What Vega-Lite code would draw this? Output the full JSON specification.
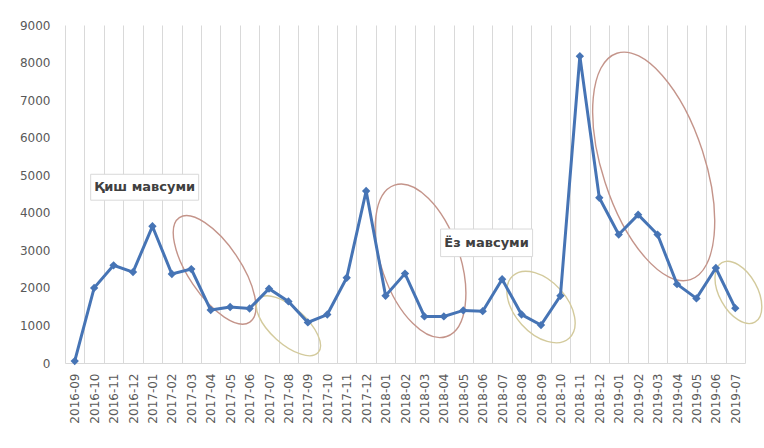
{
  "$schema": "https://vega.github.io/schema/vega-lite/v6.json",
  "width": 680,
  "height": 338,
  "autosize": "none",
  "padding": {"left": 65, "top": 25, "right": 19, "bottom": 85},
  "background": "white",
  "config": {"view": {"stroke": null}, "font": "DejaVu Sans"},
  "datasets": {
    "sales": [
      {"month": "2016-09", "value": 50},
      {"month": "2016-10", "value": 2000},
      {"month": "2016-11", "value": 2600},
      {"month": "2016-12", "value": 2420},
      {"month": "2017-01", "value": 3640},
      {"month": "2017-02", "value": 2370},
      {"month": "2017-03", "value": 2500},
      {"month": "2017-04", "value": 1410},
      {"month": "2017-05", "value": 1490},
      {"month": "2017-06", "value": 1450},
      {"month": "2017-07", "value": 1980},
      {"month": "2017-08", "value": 1640},
      {"month": "2017-09", "value": 1080},
      {"month": "2017-10", "value": 1290},
      {"month": "2017-11", "value": 2270},
      {"month": "2017-12", "value": 4580},
      {"month": "2018-01", "value": 1790},
      {"month": "2018-02", "value": 2380},
      {"month": "2018-03", "value": 1240},
      {"month": "2018-04", "value": 1240},
      {"month": "2018-05", "value": 1400},
      {"month": "2018-06", "value": 1380},
      {"month": "2018-07", "value": 2230},
      {"month": "2018-08", "value": 1290},
      {"month": "2018-09", "value": 1010},
      {"month": "2018-10", "value": 1790},
      {"month": "2018-11", "value": 8170},
      {"month": "2018-12", "value": 4400},
      {"month": "2019-01", "value": 3420},
      {"month": "2019-02", "value": 3950},
      {"month": "2019-03", "value": 3420},
      {"month": "2019-04", "value": 2100},
      {"month": "2019-05", "value": 1720},
      {"month": "2019-06", "value": 2530},
      {"month": "2019-07", "value": 1460}
    ],
    "ellipses": [
      {"id": "e1", "pos": 7.2, "value": 2480},
      {"id": "e2", "pos": 11.0, "value": 990},
      {"id": "e3", "pos": 17.8, "value": 2720},
      {"id": "e4", "pos": 24.0, "value": 1490},
      {"id": "e5", "pos": 29.8, "value": 5235},
      {"id": "e6", "pos": 34.16, "value": 1880}
    ],
    "notes": [
      {"label": "Қиш мавсуми", "pos": 3.6, "value": 4680},
      {"label": "Ёз мавсуми", "pos": 21.2, "value": 3200}
    ]
  },
  "resolve": {"scale": {"x": "independent"}},
  "layer": [
    {
      "data": {"name": "ellipses"},
      "encoding": {
        "x": {"field": "pos", "type": "quantitative", "scale": {"domain": [-0.5, 34.5]}, "axis": null},
        "y": {
          "field": "value", "type": "quantitative", "scale": {"domain": [0, 9000]},
          "axis": {
            "title": null, "values": [0, 1000, 2000, 3000, 4000, 5000, 6000, 7000, 8000, 9000],
            "format": "d", "grid": false, "domain": false, "ticks": false, "tickSize": 0, "labelOverlap": false,
            "labelPadding": 15, "labelFont": "DejaVu Sans", "labelFontSize": 12, "labelColor": "#595959"
          }
        }
      },
      "layer": [
        {"transform": [{"filter": "datum.id === 'e1'"}], "mark": {"type": "point", "filled": false, "shape": "M-1,0A1,0.413,0,0,1,1,0A1,0.413,0,0,1,-1,0Z", "size": 15876, "angle": 56, "stroke": "#c4948a", "strokeWidth": 1.4, "opacity": 1}},
        {"transform": [{"filter": "datum.id === 'e2'"}], "mark": {"type": "point", "filled": false, "shape": "M-1,0A1,0.45,0,0,1,1,0A1,0.45,0,0,1,-1,0Z", "size": 6400, "angle": 42, "stroke": "#d3ca9c", "strokeWidth": 1.4, "opacity": 1}},
        {"transform": [{"filter": "datum.id === 'e3'"}], "mark": {"type": "point", "filled": false, "shape": "M-1,0A1,0.49,0,0,1,1,0A1,0.49,0,0,1,-1,0Z", "size": 25600, "angle": 71, "stroke": "#c4948a", "strokeWidth": 1.4, "opacity": 1}},
        {"transform": [{"filter": "datum.id === 'e4'"}], "mark": {"type": "point", "filled": false, "shape": "M-1,0A1,0.62,0,0,1,1,0A1,0.62,0,0,1,-1,0Z", "size": 7056, "angle": 48, "stroke": "#d3ca9c", "strokeWidth": 1.4, "opacity": 1}},
        {"transform": [{"filter": "datum.id === 'e5'"}], "mark": {"type": "point", "filled": false, "shape": "M-1,0A1,0.43,0,0,1,1,0A1,0.43,0,0,1,-1,0Z", "size": 56644, "angle": 72, "stroke": "#c4948a", "strokeWidth": 1.4, "opacity": 1}},
        {"transform": [{"filter": "datum.id === 'e6'"}], "mark": {"type": "point", "filled": false, "shape": "M-1,0A1,0.56,0,0,1,1,0A1,0.56,0,0,1,-1,0Z", "size": 4624, "angle": 61, "stroke": "#d3ca9c", "strokeWidth": 1.4, "opacity": 1}}
      ]
    },
    {
      "data": {"name": "sales"},
      "encoding": {
        "x": {
          "field": "month", "type": "ordinal", "sort": null,
          "scale": {"paddingInner": 0, "paddingOuter": 0},
          "axis": {
            "title": null, "labelAngle": -90, "tickBand": "extent", "grid": true,
            "gridColor": "#d9d9d9", "gridWidth": 1, "ticks": false, "tickSize": 0,
            "domain": true, "domainColor": "#d9d9d9", "labelPadding": 10, "labelOverlap": false,
            "labelFont": "DejaVu Sans", "labelFontSize": 12, "labelColor": "#595959"
          }
        },
        "y": {
          "field": "value", "type": "quantitative",
          "scale": {"domain": [0, 9000]},
          "axis": {
            "title": null, "values": [0, 1000, 2000, 3000, 4000, 5000, 6000, 7000, 8000, 9000],
            "format": "d", "grid": false, "domain": false, "ticks": false, "tickSize": 0, "labelOverlap": false,
            "labelPadding": 15, "labelFont": "DejaVu Sans", "labelFontSize": 12, "labelColor": "#595959"
          }
        }
      },
      "layer": [
        {"mark": {"type": "line", "color": "#4674b5", "strokeWidth": 3}},
        {"mark": {"type": "point", "shape": "diamond", "filled": true, "size": 70, "color": "#4674b5", "opacity": 1}}
      ]
    },
    {
      "data": {"name": "notes"},
      "encoding": {
        "x": {"field": "pos", "type": "quantitative", "scale": {"domain": [-0.5, 34.5]}, "axis": null},
        "y": {
          "field": "value", "type": "quantitative", "scale": {"domain": [0, 9000]},
          "axis": {
            "title": null, "values": [0, 1000, 2000, 3000, 4000, 5000, 6000, 7000, 8000, 9000],
            "format": "d", "grid": false, "domain": false, "ticks": false, "tickSize": 0, "labelOverlap": false,
            "labelPadding": 15, "labelFont": "DejaVu Sans", "labelFontSize": 12, "labelColor": "#595959"
          }
        }
      },
      "layer": [
        {"transform": [{"filter": "datum.label === 'Қиш мавсуми'"}], "mark": {"type": "point", "filled": true, "shape": "M-1,-0.24L1,-0.24L1,0.24L-1,0.24Z", "size": 11664, "fill": "white", "stroke": "#d9d9d9", "strokeWidth": 1, "opacity": 1}},
        {"transform": [{"filter": "datum.label === 'Ёз мавсуми'"}], "mark": {"type": "point", "filled": true, "shape": "M-1,-0.3L1,-0.3L1,0.3L-1,0.3Z", "size": 8464, "fill": "white", "stroke": "#d9d9d9", "strokeWidth": 1, "opacity": 1}},
        {"mark": {"type": "text", "font": "DejaVu Sans", "fontSize": 13, "fontWeight": "bold", "color": "#404040", "align": "center", "baseline": "middle"}, "encoding": {"text": {"field": "label"}}}
      ]
    }
  ]
}
